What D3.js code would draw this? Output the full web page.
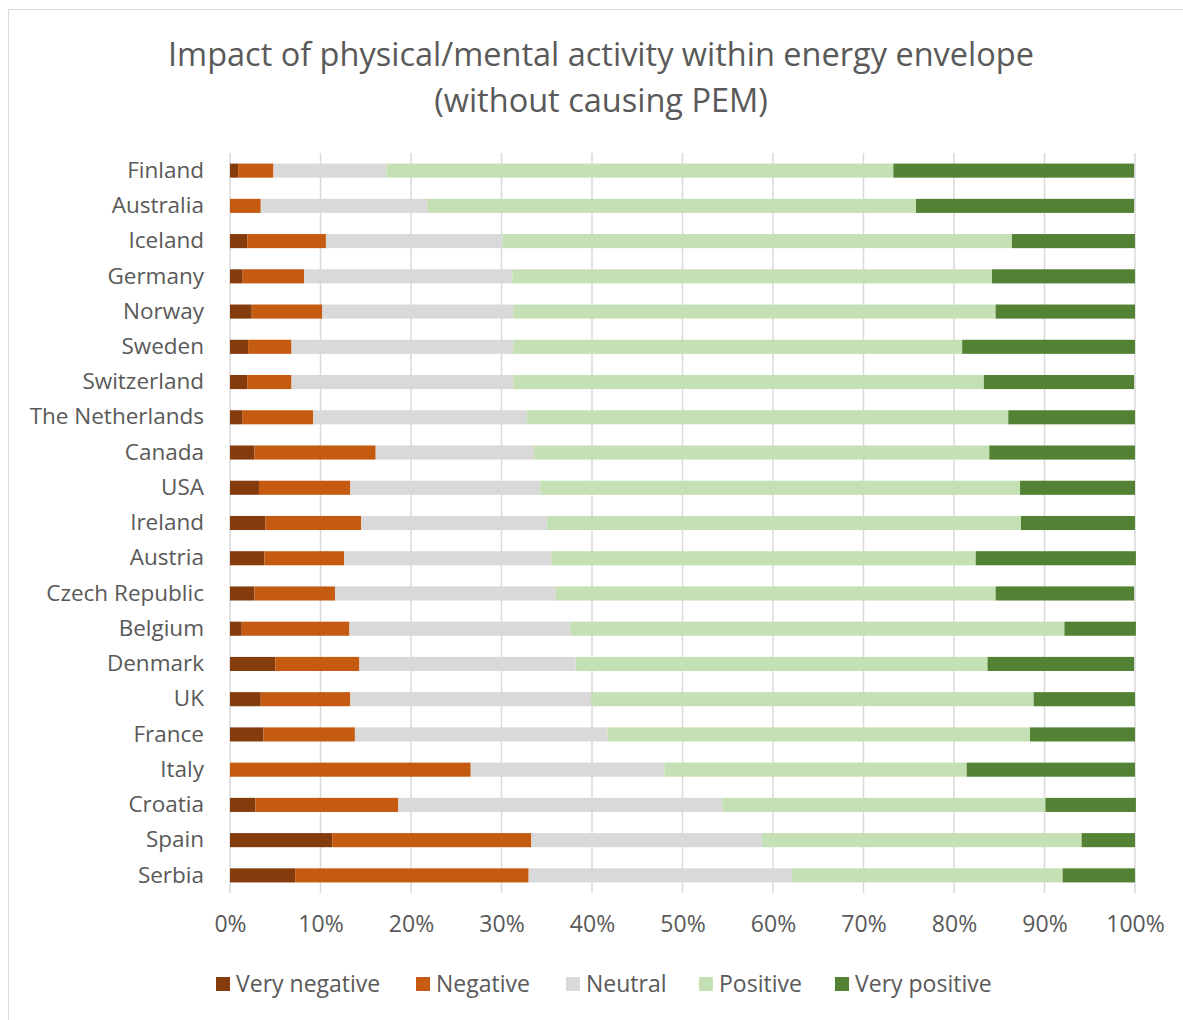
<!DOCTYPE html>
<html>
<head>
<meta charset="utf-8">
<script src="https://cdn.jsdelivr.net/npm/d3@7"></script>
<style>
  body { margin: 0; background: #fff; }
  text { font-family: "Open Sans", sans-serif; fill: #595959; }
</style>
</head>
<body>
<div id="chart"></div>
<script>
// categories, top to bottom
const countries = ["Finland", "Australia", "Iceland", "Germany", "Norway", "Sweden", "Switzerland",
  "The Netherlands", "Canada", "USA", "Ireland", "Austria", "Czech Republic", "Belgium", "Denmark",
  "UK", "France", "Italy", "Croatia", "Spain", "Serbia"];

const seriesNames = ["Very negative", "Negative", "Neutral", "Positive", "Very positive"];
const seriesColors = ["#843C0C", "#C55A11", "#D9D9D9", "#C5E0B4", "#548235"];

// shares in %, same order as countries
const veryNegative = [0.9, 0, 1.9, 1.4, 2.4, 2.0, 1.9, 1.4, 2.7, 3.2, 3.9, 3.8, 2.7, 1.3, 5.0, 3.4, 3.7, 0, 2.8, 11.3, 7.2];
const negative     = [3.9, 3.4, 8.7, 6.8, 7.8, 4.8, 4.9, 7.8, 13.4, 10.1, 10.6, 8.8, 8.9, 11.9, 9.3, 9.9, 10.1, 26.6, 15.8, 22.0, 25.8];
const neutral      = [12.5, 18.4, 19.5, 23.0, 21.1, 24.5, 24.5, 23.6, 17.5, 21.0, 20.5, 22.9, 24.4, 24.4, 23.9, 26.6, 27.9, 21.4, 35.8, 25.5, 29.1];
const positive     = [56.0, 54.0, 56.3, 53.0, 53.3, 49.6, 52.0, 53.2, 50.3, 53.0, 52.4, 46.9, 48.6, 54.6, 45.5, 48.9, 46.7, 33.4, 35.7, 35.3, 29.9];
const veryPositive = [26.6, 24.1, 13.6, 15.8, 15.4, 19.1, 16.6, 14.0, 16.1, 12.7, 12.6, 17.7, 15.3, 7.9, 16.2, 11.2, 11.6, 18.6, 10.0, 5.9, 8.0];

const xTicks = [0, 10, 20, 30, 40, 50, 60, 70, 80, 90, 100];

const W = 1183, H = 1020;
const margin = { top: 153, right: 48, bottom: 127, left: 230 };
const width = W - margin.left - margin.right;
const height = H - margin.top - margin.bottom;

const svg = d3.select("#chart").append("svg")
  .attr("width", W)
  .attr("height", H);

// outer chart frame
svg.append("rect")
  .attr("x", 8.5).attr("y", 9.5)
  .attr("width", 1200).attr("height", 1100)
  .attr("fill", "none")
  .attr("stroke", "#D9D9D9")
  .attr("stroke-width", 1);

// title
const title = svg.append("text")
  .attr("text-anchor", "middle")
  .style("font-size", "32.5px");
title.append("tspan").attr("x", 601).attr("y", 66).text("Impact of physical/mental activity within energy envelope");
title.append("tspan").attr("x", 601).attr("y", 112).text("(without causing PEM)");

const g = svg.append("g").attr("transform", "translate(" + margin.left + "," + margin.top + ")");

//----------------------------SCALES----------------------------//
const x = d3.scaleLinear().domain([0, 100]).range([0, width]);
const y = d3.scaleBand().domain(countries).range([0, height]).paddingInner(0.6).paddingOuter(0.3);

//-----------------------------GRID-----------------------------//
g.append("g")
  .selectAll("line")
  .data(xTicks)
  .enter()
  .append("line")
  .attr("x1", d => x(d)).attr("x2", d => x(d))
  .attr("y1", 0).attr("y2", height)
  .attr("stroke", "#D9D9D9")
  .attr("stroke-width", 1.5);

//-----------------------------BARS-----------------------------//
const rows = countries.map((c, i) => {
  const r = { country: c };
  r[seriesNames[0]] = veryNegative[i];
  r[seriesNames[1]] = negative[i];
  r[seriesNames[2]] = neutral[i];
  r[seriesNames[3]] = positive[i];
  r[seriesNames[4]] = veryPositive[i];
  return r;
});

const stacked = d3.stack().keys(seriesNames)(rows);

g.append("g")
  .selectAll("g")
  .data(stacked)
  .enter()
  .append("g")
  .attr("fill", (d, i) => seriesColors[i])
  .selectAll("rect")
  .data(d => d)
  .enter()
  .append("rect")
  .attr("x", d => x(d[0]))
  .attr("width", d => Math.max(0, x(d[1]) - x(d[0])))
  .attr("y", d => y(d.data.country))
  .attr("height", y.bandwidth());

//-----------------------------AXES-----------------------------//
const yAxis = g.append("g")
  .call(d3.axisLeft(y).tickSize(0).tickPadding(26));
yAxis.select(".domain").remove();
yAxis.selectAll("text")
  .style("font-size", "22.5px")
  .style("fill", "#595959")
  .style("font-family", "'Open Sans', sans-serif");

const xAxis = g.append("g")
  .attr("transform", "translate(0," + height + ")")
  .call(d3.axisBottom(x).tickValues(xTicks).tickSize(0).tickPadding(23).tickFormat(d => d + "%"));
xAxis.select(".domain").remove();
xAxis.selectAll("text")
  .style("font-size", "23px")
  .style("fill", "#595959")
  .style("font-family", "'Open Sans', sans-serif");

//----------------------------LEGEND----------------------------//
const legendX = [216, 416, 566, 699, 835];
const legend = svg.append("g")
  .selectAll("g")
  .data(seriesNames)
  .enter()
  .append("g")
  .attr("transform", (d, i) => "translate(" + legendX[i] + ",977)");

legend.append("rect")
  .attr("width", 14).attr("height", 14)
  .attr("fill", (d, i) => seriesColors[i]);

legend.append("text")
  .attr("x", 20).attr("y", 15)
  .style("font-size", "23px")
  .text(d => d);
</script>
</body>
</html>
